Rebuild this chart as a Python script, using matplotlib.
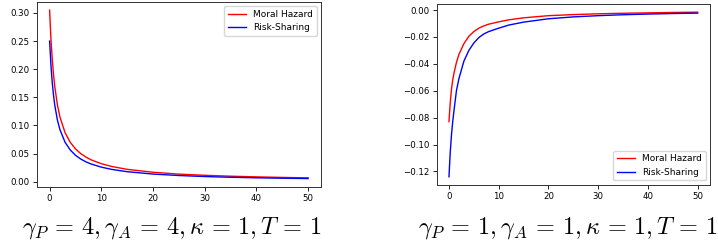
import matplotlib
matplotlib.use("Agg")
import matplotlib.pyplot as plt

plt.rcParams['mathtext.fontset'] = 'cm'

# valores (n = 0..50)
n = [0, 0.25, 0.5, 0.75, 1, 1.5, 2, 3, 4, 5, 6, 7, 8, 10, 12, 15, 20, 25, 30, 35, 40, 45, 50]

# gamma_P = 4, gamma_A = 4
mh_izq = [0.305, 0.255, 0.219, 0.191, 0.169, 0.137, 0.1150, 0.0870, 0.0700, 0.0585,
          0.0502, 0.0440, 0.0391, 0.0321, 0.0272, 0.0221, 0.0169, 0.0136, 0.0115,
          0.0099, 0.0087, 0.0077, 0.0070]
rs_izq = [0.250, 0.208, 0.177, 0.154, 0.136, 0.110, 0.0925, 0.0700, 0.0564, 0.0472,
          0.0405, 0.0355, 0.0317, 0.0260, 0.0220, 0.0179, 0.0137, 0.0111, 0.0093,
          0.0080, 0.0070, 0.0063, 0.0057]

# gamma_P = 1, gamma_A = 1
mh_der = [-0.083, -0.069, -0.059, -0.052, -0.047, -0.039, -0.033, -0.025, -0.0195, -0.016,
          -0.0135, -0.0118, -0.0105, -0.0088, -0.0073, -0.0058, -0.0042, -0.0034, -0.0028,
          -0.0024, -0.0021, -0.0018, -0.0016]
rs_der = [-0.124, -0.106, -0.093, -0.083, -0.075, -0.060, -0.051, -0.038, -0.030, -0.0245,
          -0.0205, -0.0178, -0.0160, -0.0135, -0.0112, -0.0090, -0.0065, -0.0051, -0.0042,
          -0.0035, -0.0030, -0.0026, -0.0023]

titulos = [r"$\gamma_P\,=\,4, \gamma_A\,=\,4, \kappa\,=\,1, T\,=\,1$",
           r"$\gamma_P\,=\,1, \gamma_A\,=\,1, \kappa\,=\,1, T\,=\,1$"]

fig = plt.figure(figsize=(7.18, 2.47), dpi=100)
ax1 = fig.add_axes([0.0511, 0.243, 0.396, 0.750])
ax2 = fig.add_axes([0.608, 0.251, 0.381, 0.733])

ax1.plot(n, mh_izq, color="red", lw=1.0, label="Moral Hazard")
ax1.plot(n, rs_izq, color="blue", lw=1.0, label="Risk-Sharing")
ax1.legend(loc="upper right", fontsize=6.5)

ax2.plot(n, mh_der, color="red", lw=1.0, label="Moral Hazard")
ax2.plot(n, rs_der, color="blue", lw=1.0, label="Risk-Sharing")
ax2.legend(loc="lower right", fontsize=6.5)

for ax in (ax1, ax2):
    ax.set_xticks([0, 10, 20, 30, 40, 50])
    ax.tick_params(labelsize=6.2, length=3, width=0.6, pad=2)
    for s in ax.spines.values():
        s.set_linewidth(0.7)
        s.set_color("#333333")
ax2.set_yticks([0.0, -0.02, -0.04, -0.06, -0.08, -0.10, -0.12])

fig.text(0.240, 0.055, titulos[0], fontsize=17.5, ha="center")
fig.text(0.791, 0.055, titulos[1], fontsize=17.5, ha="center")

fig.savefig("out.png", dpi=100)
